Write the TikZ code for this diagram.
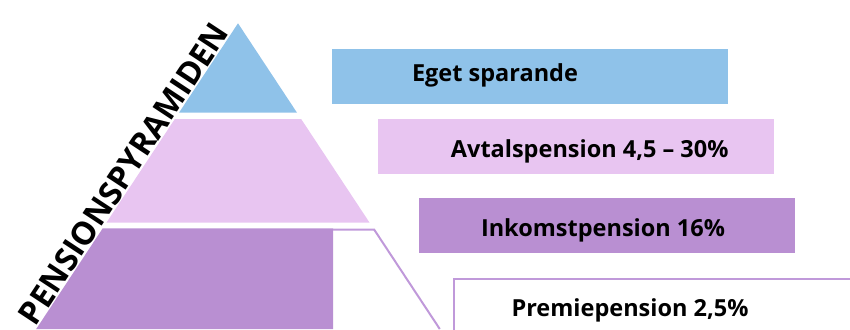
\documentclass[tikz,border=0pt]{standalone}
\usepackage{fontspec}
\setmainfont{Open Sans}
\usepackage{tikz}

\definecolor{tipblue}{RGB}{143,194,233}
\definecolor{midpink}{RGB}{232,197,241}
\definecolor{basepurple}{RGB}{185,143,210}
\definecolor{edgepurple}{RGB}{192,153,218}

\begin{document}
\begin{tikzpicture}[x=1pt,y=-1pt,
  layerbox/.style={minimum width=#1, minimum height=55.5pt, inner sep=0pt},
  boxtext/.style={font=\bfseries\fontsize{23.5}{27}\selectfont, inner sep=0pt, anchor=base}]

\useasboundingbox (0,0) rectangle (850,329);

% Parameters (pixel units, y downwards)
\def\apx{238}
\def\apy{23.3}
\def\kk{0.66}
\def\cutx{333}

% Derived edge positions
\pgfmathsetmacro{\la}{\apx-\kk*(112.7-\apy)}
\pgfmathsetmacro{\ra}{\apx+\kk*(112.7-\apy)}
\pgfmathsetmacro{\lb}{\apx-\kk*(119-\apy)}
\pgfmathsetmacro{\rb}{\apx+\kk*(119-\apy)}
\pgfmathsetmacro{\lc}{\apx-\kk*(222.7-\apy)}
\pgfmathsetmacro{\rc}{\apx+\kk*(222.7-\apy)}
\pgfmathsetmacro{\ld}{\apx-\kk*(228.3-\apy)}
\pgfmathsetmacro{\rd}{\apx+\kk*(229.5-\apy)}
\pgfmathsetmacro{\le}{\apx-\kk*(329-\apy)}
\pgfmathsetmacro{\re}{\apx+\kk*(329-\apy)}

% Pyramid layers
\coordinate (A) at (\apx,\apy);
\fill[tipblue] (A) -- (\ra,112.7) -- (\la,112.7) -- cycle;
\fill[midpink] (\lb,119) -- (\rb,119) -- (\rc,222.7) -- (\lc,222.7) -- cycle;
\fill[basepurple] (\ld,228.3) -- (\cutx,228.3) -- (\cutx,329) -- (\le,329) -- cycle;
\draw[edgepurple, line width=2pt] (\cutx,229.5) -- (\rd,229.5) -- (\re,329);

% Title along the left edge
\node[font=\bfseries\fontsize{32}{36}\selectfont, inner sep=0pt, anchor=south, rotate=56.6]
  (title) at ({\apx-\kk*(180-\apy)-1},180) {PENSIONSPYRAMIDEN};

% Boxes
\node[layerbox=396pt, fill=tipblue] (eget) at (529.7,76.7) {};
\node[layerbox=396pt, fill=midpink] (avtal) at (576.3,146.7) {};
\node[layerbox=376.3pt, fill=basepurple] (inkomst) at (606.9,225.5) {};
\node[layerbox=420pt, minimum height=80pt, draw=edgepurple, line width=2pt] (premie) at (663.7,318.7) {};

% Box texts
\node[boxtext] (egettxt) at (495,81.7) {Eget sparande};
\node[boxtext] (avtaltxt) at (589.7,157.3) {Avtalspension 4,5 – 30\%};
\node[boxtext] (inkomsttxt) at (603,236.7) {Inkomstpension 16\%};
\node[boxtext] (premietxt) at (630,316) {Premiepension 2,5\%};

\end{tikzpicture}
\end{document}
